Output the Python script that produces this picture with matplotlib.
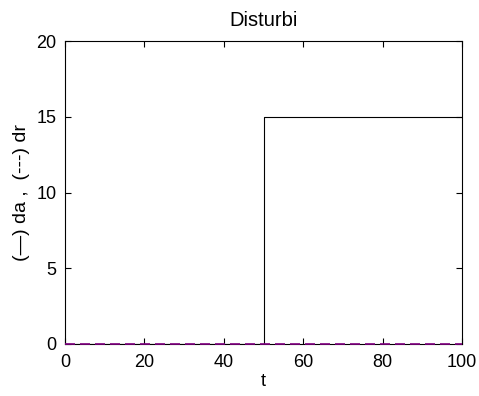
import matplotlib.pyplot as plt

plt.rcParams['font.family'] = ['Liberation Sans', 'DejaVu Sans']

# disturbance signals
t = [0, 50, 50, 100]
da = [0, 0, 15, 15]
dr = [0, 0, 0, 0]

fig = plt.figure(figsize=(4.79, 3.96), dpi=100)
ax = fig.add_axes([65 / 479, 1 - 344 / 396, (462 - 65) / 479, (344 - 41) / 396])

ax.plot(t, da, '-', color='black', lw=0.8)
ax.plot(t, dr, '--', color='#800080', lw=1.2, dashes=(6, 3), clip_on=False, zorder=3)

ax.set_xlim(0, 100)
ax.set_ylim(0, 20)
ax.set_xticks([0, 20, 40, 60, 80, 100])
ax.set_yticks([0, 5, 10, 15, 20])
ax.tick_params(direction='in', length=4, labelsize=13, top=True, right=True,
               labeltop=False, labelright=False, width=0.8)
ax.tick_params(axis='x', pad=7)
ax.tick_params(axis='y', pad=6)
for s in ax.spines.values():
    s.set_linewidth(0.8)

ax.set_title('Disturbi', fontsize=14.5, pad=11)
ax.set_xlabel('t', fontsize=13, labelpad=2)
ax.set_ylabel('(\u2014) da ,  (---) dr', fontsize=14, labelpad=5)

fig.savefig('out.png', dpi=100)
